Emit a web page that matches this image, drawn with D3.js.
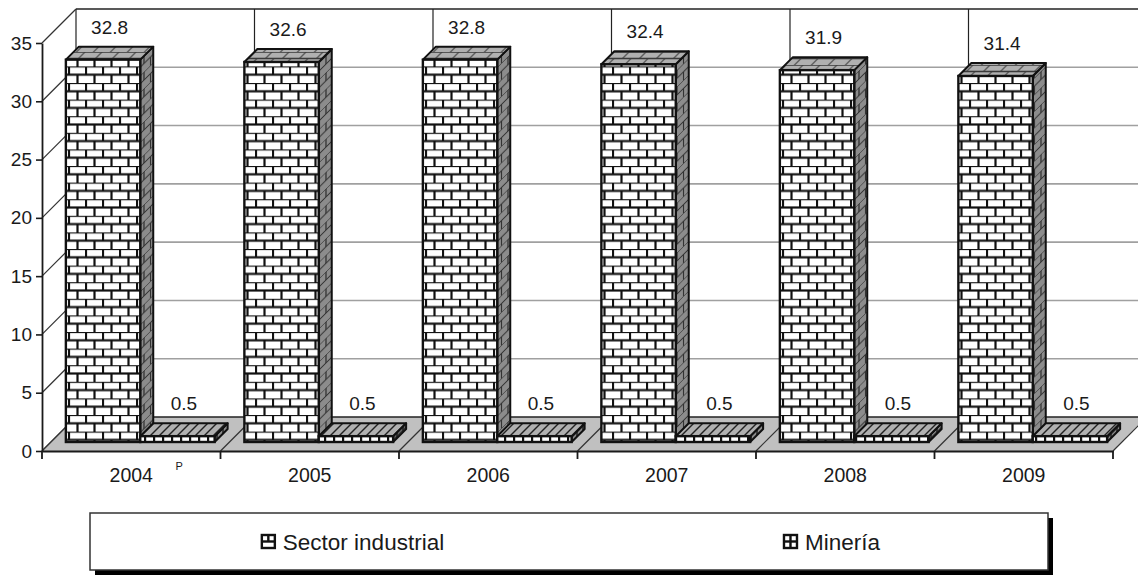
<!DOCTYPE html>
<html>
<head>
  <meta charset="UTF-8">
  <title>Sector industrial y Minería</title>
  <style>
    body { margin: 0; background: #fff; }
    svg { display: block; font-family: "Liberation Sans", Arial, sans-serif; }
    .axis text { font-size: 19px; fill: #1a1a1a; }
    .axis path, .axis line { stroke: #1a1a1a; }
  </style>
</head>
<body>
<svg id="chart" width="1138" height="575"></svg>

<script src="https://d3js.org/d3.v7.min.js"></script>
<script>
  // data
  const years = ["2004", "2005", "2006", "2007", "2008", "2009"];
  const seriesNames = ["Sector industrial", "Minería"];
  const industrial = [32.8, 32.6, 32.8, 32.4, 31.9, 31.4];
  const mineria = [0.5, 0.5, 0.5, 0.5, 0.5, 0.5];
  const yTicks = [0, 5, 10, 15, 20, 25, 30, 35];
  const footnote = "P";

  const svg = d3.select("#chart");

  // front plane of the 3d box
  const plotLeft = 42, plotRight = 1113, plotBase = 451, plotTop = 43;
  const depth = 34;          // oblique depth (px, 45 degrees)
  const barZ0 = 9, barZ1 = 22;

  const x = d3.scaleBand().domain(years).range([plotLeft, plotRight]);
  const xs = d3.scaleBand().domain(seriesNames).range([0, x.bandwidth()])
    .paddingInner(0).paddingOuter(0.2);
  const y = d3.scaleLinear().domain([0, 35]).range([plotBase, plotTop]);

  // project a front-plane point back by z
  function P(px, py, z) { return [px + z, py - z]; }
  function poly(pts) { return pts.map(p => p.join(",")).join(" "); }

  ////////// patterns //////////
  const defs = svg.append("defs");

  function brick(id, bg, line, w, h, sw, transform) {
    const p = defs.append("pattern").attr("id", id)
      .attr("patternUnits", "userSpaceOnUse")
      .attr("width", w).attr("height", h * 2);
    if (transform) p.attr("patternTransform", transform);
    p.append("rect").attr("width", w).attr("height", h * 2).attr("fill", bg);
    p.append("line").attr("x1", 0).attr("x2", w).attr("y1", 0).attr("y2", 0)
      .attr("stroke", line).attr("stroke-width", sw);
    p.append("line").attr("x1", 0).attr("x2", w).attr("y1", h).attr("y2", h)
      .attr("stroke", line).attr("stroke-width", sw);
    p.append("line").attr("x1", 1).attr("x2", 1).attr("y1", 0).attr("y2", h)
      .attr("stroke", line).attr("stroke-width", sw);
    p.append("line").attr("x1", w / 2 + 1).attr("x2", w / 2 + 1).attr("y1", h).attr("y2", h * 2)
      .attr("stroke", line).attr("stroke-width", sw);
  }
  function grid(id, bg, line, w, h, sw, transform) {
    const p = defs.append("pattern").attr("id", id)
      .attr("patternUnits", "userSpaceOnUse")
      .attr("width", w).attr("height", h);
    if (transform) p.attr("patternTransform", transform);
    p.append("rect").attr("width", w).attr("height", h).attr("fill", bg);
    p.append("line").attr("x1", 1).attr("x2", 1).attr("y1", 0).attr("y2", h)
      .attr("stroke", line).attr("stroke-width", sw);
    p.append("line").attr("x1", 0).attr("x2", w).attr("y1", 1).attr("y2", 1)
      .attr("stroke", line).attr("stroke-width", sw);
  }
  brick("brickFront", "#ffffff", "#111", 17, 8.3, 2.2, null);
  brick("brickTop", "#b0b0b0", "#3a3a3a", 17, 6.5, 1.4, "skewX(-45)");
  brick("brickSide", "#8c8c8c", "#333", 13, 8.3, 1.4, "skewY(-45)");
  grid("gridFront", "#ffffff", "#111", 9, 12, 2.4, null);
  grid("gridTop", "#b0b0b0", "#222", 9, 40, 2, "skewX(-45)");
  grid("gridSide", "#8c8c8c", "#222", 6, 8, 1.6, "skewY(-45)");

  const fills = {
    "Sector industrial": { front: "url(#brickFront)", top: "url(#brickTop)", side: "url(#brickSide)" },
    "Minería": { front: "url(#gridFront)", top: "url(#gridTop)", side: "url(#gridSide)" }
  };

  ////////// walls //////////
  const walls = svg.append("g");
  const backRight = plotRight + depth + 40;

  // back wall gridlines
  walls.selectAll(".grid")
    .data(yTicks.filter(v => v > 0 && v < 35))
    .join("line")
    .attr("x1", plotLeft + depth).attr("x2", backRight)
    .attr("y1", d => y(d) - depth).attr("y2", d => y(d) - depth)
    .attr("stroke", "#a0a0a0").attr("stroke-width", 1.6);

  // top edge of back wall
  walls.append("line")
    .attr("x1", plotLeft + depth).attr("x2", backRight)
    .attr("y1", y(35) - depth).attr("y2", y(35) - depth)
    .attr("stroke", "#222").attr("stroke-width", 1.4);

  // back wall vertical dividers at category boundaries
  const bounds = years.map(d => x(d)).concat([plotRight]);
  walls.selectAll(".vdiv")
    .data(bounds)
    .join("line")
    .attr("x1", d => d + depth).attr("x2", d => d + depth)
    .attr("y1", y(35) - depth).attr("y2", y(0) - depth)
    .attr("stroke", "#222").attr("stroke-width", 1.2);

  // left wall diagonals
  walls.selectAll(".ldiag")
    .data(yTicks)
    .join("line")
    .attr("x1", plotLeft).attr("y1", d => y(d))
    .attr("x2", plotLeft + depth).attr("y2", d => y(d) - depth)
    .attr("stroke", "#333").attr("stroke-width", 1.2);

  // floor
  walls.append("polygon")
    .attr("points", poly([P(plotLeft, y(0), 0), P(plotRight, y(0), 0), P(plotRight, y(0), depth), P(backRight, y(0), depth), P(plotLeft, y(0), depth)]))
    .attr("fill", "#c0c0c0");
  walls.append("line")
    .attr("x1", plotLeft + depth).attr("x2", backRight)
    .attr("y1", y(0) - depth).attr("y2", y(0) - depth)
    .attr("stroke", "#222").attr("stroke-width", 1.6);
  walls.selectAll(".fdiag")
    .data(bounds)
    .join("line")
    .attr("x1", d => d).attr("y1", y(0))
    .attr("x2", d => d + depth).attr("y2", y(0) - depth)
    .attr("stroke", "#333").attr("stroke-width", 1.2);

  ////////// bars //////////
  const bars = [];
  years.forEach((yr, i) => {
    bars.push({ year: yr, s: "Sector industrial", v: industrial[i] });
    bars.push({ year: yr, s: "Minería", v: mineria[i] });
  });

  const barG = svg.append("g").selectAll("g")
    .data(bars)
    .join("g");

  function x0(d) { return x(d.year) + xs(d.s); }
  const bw = xs.bandwidth();

  barG.append("polygon")   // side face
    .attr("points", d => poly([P(x0(d) + bw, y(d.v), barZ0), P(x0(d) + bw, y(0), barZ0), P(x0(d) + bw, y(0), barZ1), P(x0(d) + bw, y(d.v), barZ1)]))
    .attr("fill", d => fills[d.s].side)
    .attr("stroke", "#111").attr("stroke-width", 2).attr("stroke-linejoin", "round");

  barG.append("polygon")   // top face
    .attr("points", d => poly([P(x0(d), y(d.v), barZ0), P(x0(d) + bw, y(d.v), barZ0), P(x0(d) + bw, y(d.v), barZ1), P(x0(d), y(d.v), barZ1)]))
    .attr("fill", d => fills[d.s].top)
    .attr("stroke", "#111").attr("stroke-width", 2).attr("stroke-linejoin", "round");

  barG.append("rect")      // front face
    .attr("x", d => P(x0(d), y(d.v), barZ0)[0])
    .attr("y", d => P(x0(d), y(d.v), barZ0)[1])
    .attr("width", bw)
    .attr("height", d => y(0) - y(d.v))
    .attr("fill", d => fills[d.s].front)
    .attr("stroke", "#111").attr("stroke-width", 2.4);

  // value labels
  barG.append("text")
    .attr("x", d => x0(d) + bw / 2 + (barZ0 + barZ1) / 2)
    .attr("y", d => y(d.v) - barZ1 - 13)
    .attr("text-anchor", "middle")
    .style("font-size", "19px")
    .attr("fill", "#1a1a1a")
    .text(d => d.v.toFixed(1));

  ////////// axes //////////
  svg.append("g")
    .attr("class", "axis")
    .attr("transform", "translate(" + plotLeft + ",0)")
    .call(d3.axisLeft(y).tickValues(yTicks).tickSize(6).tickSizeOuter(0).tickPadding(4))
    .call(g => g.select(".domain").attr("stroke-width", 1.8))
    .call(g => g.selectAll(".tick line").attr("stroke-width", 1.6));

  const xAxis = svg.append("g")
    .attr("class", "axis")
    .attr("transform", "translate(0," + plotBase + ")")
    .call(d3.axisBottom(x).tickSize(0).tickSizeOuter(0).tickPadding(17))
    .call(g => g.select(".domain").attr("stroke-width", 2))
    .call(g => g.selectAll(".tick text").style("font-size", "19.5px"));

  xAxis.selectAll(".bound")
    .data(bounds)
    .join("line")
    .attr("x1", d => d).attr("x2", d => d)
    .attr("y1", 0).attr("y2", 8)
    .attr("stroke", "#1a1a1a").attr("stroke-width", 1.8);

  svg.append("text")
    .attr("x", x(years[0]) + x.bandwidth() / 2 + 48)
    .attr("y", 470)
    .attr("text-anchor", "middle")
    .style("font-size", "11px")
    .attr("fill", "#1a1a1a")
    .text(footnote);

  ////////// legend //////////
  const lg = { x: 90, y: 513, w: 958, h: 57 };
  const legend = svg.append("g");
  legend.append("rect")
    .attr("x", lg.x + 5).attr("y", lg.y + 5).attr("width", lg.w).attr("height", lg.h)
    .attr("fill", "#000");
  legend.append("rect")
    .attr("x", lg.x).attr("y", lg.y).attr("width", lg.w).attr("height", lg.h)
    .attr("fill", "#fff").attr("stroke", "#333").attr("stroke-width", 1.5);

  const lx = d3.scaleBand().domain(seriesNames).range([lg.x, lg.x + lg.w]);
  const items = legend.selectAll(".item")
    .data(seriesNames)
    .join("g");

  items.append("text")
    .attr("y", 550)
    .style("font-size", "22.5px")
    .attr("fill", "#1a1a1a")
    .text(d => d);

  items.each(function(d) {
    const g = d3.select(this);
    const tw = g.select("text").node().getComputedTextLength();
    const itemW = 14 + 8 + tw;
    const cx = lx(d) + lx.bandwidth() / 2 + 23;
    const sx = cx - itemW / 2;
    g.select("text").attr("x", sx + 22);
    // icon
    const iy = 535;
    g.append("rect").attr("x", sx + 1).attr("y", iy).attr("width", 13).attr("height", 13)
      .attr("fill", "#fff").attr("stroke", "#111").attr("stroke-width", 2.4);
    g.append("line").attr("x1", sx + 1).attr("x2", sx + 14).attr("y1", iy + 6.5).attr("y2", iy + 6.5)
      .attr("stroke", "#111").attr("stroke-width", 2.4);
    if (d === "Minería") {
      g.append("line").attr("x1", sx + 7.5).attr("x2", sx + 7.5).attr("y1", iy).attr("y2", iy + 13)
        .attr("stroke", "#111").attr("stroke-width", 2.4);
    } else {
      g.append("line").attr("x1", sx + 7.5).attr("x2", sx + 7.5).attr("y1", iy).attr("y2", iy + 6.5)
        .attr("stroke", "#111").attr("stroke-width", 2.4);
    }
  });
</script>
</body>
</html>
